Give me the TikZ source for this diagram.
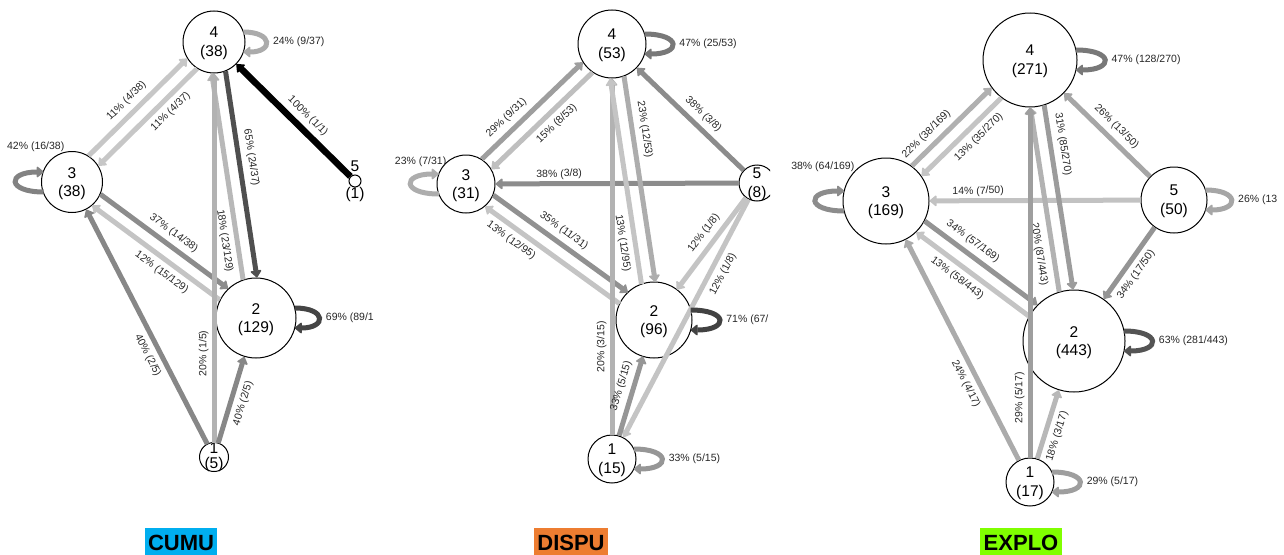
\documentclass[tikz,border=0pt]{standalone}
\usepackage{fontspec}
\setmainfont{Liberation Sans}
\usetikzlibrary{calc,arrows.meta}
\definecolor{cumu}{HTML}{00AEEF}
\definecolor{dispu}{HTML}{ED7D31}
\definecolor{explo}{HTML}{80FF00}
\newcounter{lbc}
\newcommand\edg[8]{%
  \stepcounter{lbc}%
  \pgfmathsetmacro\sA{sqrt(#3*#3-#5*#5)}%
  \pgfmathsetmacro\sB{sqrt(#4*#4-#5*#5)}%
  \draw[conn,#6,shorten <=\sA pt,shorten >=\sB pt] ($(#1)!#5pt!90:(#2)$) -- ($(#2)!#5pt!-90:(#1)$) node[lbl,#7] (e\arabic{lbc}) {#8};%
}
\newcommand\selfR[5]{%
  \stepcounter{lbc}%
  \pgfmathsetmacro\lx{sqrt(#2*#2-100)}%
  \pgfmathsetmacro\lt{\lx+0.75*#3+5.5}%
  \draw[conn,draw=#4] ($(#1)+(\lx,-10)$) .. controls +(#3,0) and +(#3,0) .. ($(#1)+(\lx,10)$);%
  \node[lbl,anchor=west] (s\arabic{lbc}) at ($(#1)+(\lt,0)$) {#5};%
}
\newcommand\selfL[4]{%
  \pgfmathsetmacro\lx{sqrt(#2*#2-100)}%
  \draw[conn,draw=#4] ($(#1)+(-\lx,10)$) .. controls +(-#3,0) and +(-#3,0) .. ($(#1)+(-\lx,-10)$);%
}
\begin{document}
\begin{tikzpicture}[x=1pt,y=-1pt,
  st/.style={circle,draw=black,line width=1pt,fill=white,inner sep=0pt},
  nt/.style={align=center,font=\fontsize{15.5}{18.5}\selectfont,inner sep=0pt,yshift=-1.5pt},
  lbl/.style={font=\fontsize{10.5}{12}\selectfont,inner sep=1.5pt,text=black!85},
  conn/.style={line width=5pt,-{Triangle[length=7.5pt,width=12pt,line width=1.5pt,round]}},
  lab-a/.style={sloped,above=3.5pt},
  lab-b/.style={sloped,below=3.5pt},
  lab-h/.style={sloped,above=0.5pt},
  lab-v/.style={rotate=90,anchor=south,inner sep=3pt},
  ttl/.style={font=\fontsize{22}{24}\selectfont\bfseries,inner xsep=3.5pt,inner ysep=0pt,text height=22pt,text depth=10pt,anchor=base}]
\useasboundingbox (0,0) rectangle (1284,554);

% ---------------- CUMU ----------------
\begin{scope}
\clip (0,0) rectangle (377,554);
\node[st,minimum size=62pt] (a4) at (214,42) {};
\node[st,minimum size=61pt] (a3) at (72,182) {};
\node[st,minimum size=80pt] (a2) at (256,318) {};
\node[st,minimum size=29pt] (a1) at (214,457) {};
\node[st,minimum size=12pt] (a5) at (355,181) {};
\node[nt] (a4t) at (a4) {4\\(38)};
\node[nt] (a3t) at (a3) {3\\(38)};
\node[nt] (a2t) at (a2) {2\\(129)};
\node[nt,yshift=1.5pt] (a1t) at (a1) {1\\[-3.5pt](5)};
\node[nt,yshift=1.5pt] (a5t) at (a5) {5\\[8.5pt](1)};
\edg{a3}{a4}{31}{31.5}{7}{draw=black!22}{lab-a,pos=.48}{11\% (4/38)}
\edg{a4}{a3}{31.5}{31}{7}{draw=black!22}{lab-b,pos=.40}{11\% (4/37)}
\edg{a5}{a4}{6.5}{31.5}{0}{draw=black,line width=6.5pt}{lab-a,pos=.40}{100\% (1/1)}
\edg{a4}{a2}{31.5}{40.5}{7}{draw=black!69}{lab-a,pos=.43}{65\% (24/37)}
\edg{a2}{a4}{40.5}{31.5}{7}{draw=black!28}{lab-b,pos=.29}{18\% (23/129)}
\edg{a3}{a2}{31}{40.5}{7}{draw=black!45}{lab-a,pos=.49}{37\% (14/38)}
\edg{a2}{a3}{40.5}{31}{7}{draw=black!23}{lab-b,pos=.45}{12\% (15/129)}
\edg{a1}{a3}{14.5}{31}{0}{draw=black!47}{lab-b,pos=.39}{40\% (2/5)}
\edg{a1}{a4}{14.5}{31.5}{0}{draw=black!30}{lab-v,pos=.25}{20\% (1/5)}
\edg{a1}{a2}{14.5}{40.5}{0}{draw=black!47}{lab-b,pos=.41}{40\% (2/5)}
\selfR{a4}{31}{30}{black!33}{24\% (9/37)}
\selfR{a2}{40}{32}{black!73}{69\% (89/1}
\selfL{a3}{30}{37}{black!49}
\node[lbl,anchor=east] (a3l) at (66,147) {42\% (16/38)};
\end{scope}

% ---------------- DISPU ----------------
\begin{scope}
\clip (385,0) rectangle (770,554);
\node[st,minimum size=68pt] (b4) at (612,44) {};
\node[st,minimum size=58pt] (b3) at (466,184) {};
\node[st,minimum size=36pt] (b5) at (757,183) {};
\node[st,minimum size=76pt] (b2) at (654,320) {};
\node[st,minimum size=48pt] (b1) at (612,459) {};
\node[nt] (b4t) at (b4) {4\\(53)};
\node[nt] (b3t) at (b3) {3\\(31)};
\node[nt] (b5t) at (b5) {5\\(8)};
\node[nt] (b2t) at (b2) {2\\(96)};
\node[nt] (b1t) at (b1) {1\\(15)};
\edg{b3}{b4}{29.5}{34.5}{7}{draw=black!38}{lab-a,pos=.37}{29\% (9/31)}
\edg{b4}{b3}{34.5}{29.5}{7}{draw=black!25}{lab-b,pos=.47}{15\% (8/53)}
\edg{b5}{b4}{18.5}{34.5}{0}{draw=black!45}{lab-a,pos=.43}{38\% (3/8)}
\edg{b5}{b3}{18.5}{29.5}{0}{draw=black!45}{lab-h,pos=.68}{38\% (3/8)}
\edg{b3}{b2}{29.5}{38}{7}{draw=black!43}{lab-a,pos=.46}{35\% (11/31)}
\edg{b2}{b3}{38}{29.5}{7}{draw=black!23}{lab-b,pos=.70}{13\% (12/95)}
\edg{b1}{b4}{24.5}{34.5}{0}{draw=black!30}{lab-v,pos=.27}{20\% (3/15)}
\edg{b2}{b4}{38}{34.5}{7}{draw=black!23}{lab-b,pos=.29}{13\% (12/95)}
\edg{b4}{b2}{34.5}{38}{7}{draw=black!32}{lab-a,pos=.32}{23\% (12/53)}
\edg{b5}{b2}{18.5}{38}{0}{draw=black!23}{lab-a,pos=.42}{12\% (1/8)}
\edg{b5}{b1}{18.5}{24.5}{0}{draw=black!23}{lab-b,pos=.31}{12\% (1/8)}
\edg{b1}{b2}{24.5}{38}{0}{draw=black!41}{lab-a,pos=.50}{33\% (5/15)}
\selfR{b4}{34}{37}{black!53}{47\% (25/53)}
\selfR{b2}{38}{38}{black!74}{71\% (67/}
\selfR{b1}{24}{37}{black!41}{33\% (5/15)}
\selfL{b3}{29}{37}{black!32}
\node[lbl,anchor=east] (b3l) at (448,162) {23\% (7/31)};
\end{scope}

% ---------------- EXPLO ----------------
\begin{scope}
\clip (780,0) rectangle (1284,554);
\node[st,minimum size=94pt] (c4) at (1030,60) {};
\node[st,minimum size=86pt] (c3) at (886,201) {};
\node[st,minimum size=66pt] (c5) at (1174,200) {};
\node[st,minimum size=102pt] (c2) at (1074,341) {};
\node[st,minimum size=48pt] (c1) at (1030,482) {};
\node[nt] (c4t) at (c4) {4\\(271)};
\node[nt] (c3t) at (c3) {3\\(169)};
\node[nt] (c5t) at (c5) {5\\(50)};
\node[nt] (c2t) at (c2) {2\\(443)};
\node[nt] (c1t) at (c1) {1\\(17)};
\edg{c3}{c4}{43.5}{47.5}{7}{draw=black!31}{lab-a,pos=.375}{22\% (38/169)}
\edg{c4}{c3}{47.5}{43.5}{7}{draw=black!23}{lab-b,pos=.45}{13\% (35/270)}
\edg{c5}{c4}{33.5}{47.5}{0}{draw=black!35}{lab-a,pos=.46}{26\% (13/50)}
\edg{c5}{c3}{33.5}{43.5}{0}{draw=black!24}{lab-h,pos=.68}{14\% (7/50)}
\edg{c4}{c2}{47.5}{51.5}{7}{draw=black!39}{lab-a,pos=.31}{31\% (85/270)}
\edg{c2}{c4}{51.5}{47.5}{7}{draw=black!30}{lab-b,pos=.32,below=1.5pt}{20\% (87/443)}
\edg{c3}{c2}{43.5}{51.5}{7}{draw=black!42}{lab-a,pos=.40}{34\% (57/169)}
\edg{c2}{c3}{51.5}{43.5}{7}{draw=black!23}{lab-b,pos=.56}{13\% (58/443)}
\edg{c5}{c2}{33.5}{51.5}{0}{draw=black!42}{lab-b,pos=.48}{34\% (17/50)}
\edg{c1}{c3}{24.5}{43.5}{0}{draw=black!33}{lab-b,pos=.37}{24\% (4/17)}
\edg{c1}{c4}{24.5}{47.5}{0}{draw=black!38}{lab-v,pos=.20}{29\% (5/17)}
\edg{c1}{c2}{24.5}{51.5}{0}{draw=black!28}{lab-b,pos=.35}{18\% (3/17)}
\selfR{c4}{47}{38}{black!53}{47\% (128/270)}
\selfR{c5}{33}{34}{black!35}{26\% (13}
\selfR{c2}{51}{37}{black!67}{63\% (281/443)}
\selfR{c1}{24}{37}{black!38}{29\% (5/17)}
\selfL{c3}{43}{38}{black!45}
\node[lbl,anchor=east] (c3l) at (856,167) {38\% (64/169)};
\end{scope}

% ---------------- titles ----------------
\node[ttl,fill=cumu] (t1) at (181,550) {CUMU};
\node[ttl,fill=dispu] (t2) at (571,550) {DISPU};
\node[ttl,fill=explo] (t3) at (1021,550) {EXPLO};
\end{tikzpicture}
\end{document}
